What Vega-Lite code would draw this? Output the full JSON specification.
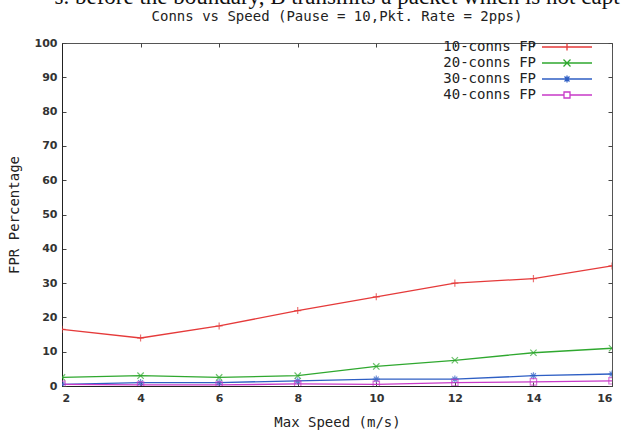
{
  "$schema": "https://vega.github.io/schema/vega-lite/v6.json",
  "width": 550,
  "height": 343,
  "autosize": {"type": "none"},
  "padding": {"left": 62, "top": 43, "right": 12, "bottom": 49},
  "background": "white",
  "title": {
    "text": "s. before the boundary, B transmits a packet which is not capt",
    "subtitle": "Conns vs Speed (Pause = 10,Pkt. Rate = 2pps)",
    "anchor": "middle",
    "font": "Liberation Serif",
    "fontSize": 23,
    "fontWeight": "normal",
    "color": "#111",
    "subtitleFont": "DejaVu Sans Mono",
    "subtitleFontSize": 14,
    "subtitleColor": "#222",
    "subtitlePadding": 1,
    "offset": 13
  },
  "config": {
    "view": {"stroke": "#555", "strokeWidth": 1},
    "axis": {
      "labelFont": "DejaVu Sans",
      "labelFontSize": 11,
      "labelFontWeight": "bold",
      "labelColor": "#333",
      "titleFont": "DejaVu Sans Mono",
      "titleFontSize": 14,
      "titleFontWeight": "normal",
      "titleColor": "#222",
      "grid": false,
      "domainColor": "#222",
      "tickColor": "#444",
      "tickSize": -4
    },
    "legend": {
      "labelFont": "DejaVu Sans Mono",
      "labelFontSize": 14,
      "labelColor": "#222"
    }
  },
  "data": {
    "values": [
      {"speed": 2, "fpr": 16.5, "series": "10-conns FP"},
      {"speed": 4, "fpr": 14, "series": "10-conns FP"},
      {"speed": 6, "fpr": 17.5, "series": "10-conns FP"},
      {"speed": 8, "fpr": 22, "series": "10-conns FP"},
      {"speed": 10, "fpr": 26, "series": "10-conns FP"},
      {"speed": 12, "fpr": 30, "series": "10-conns FP"},
      {"speed": 14, "fpr": 31.3, "series": "10-conns FP"},
      {"speed": 16, "fpr": 35, "series": "10-conns FP"},
      {"speed": 2, "fpr": 2.5, "series": "20-conns FP"},
      {"speed": 4, "fpr": 3, "series": "20-conns FP"},
      {"speed": 6, "fpr": 2.5, "series": "20-conns FP"},
      {"speed": 8, "fpr": 3, "series": "20-conns FP"},
      {"speed": 10, "fpr": 5.7, "series": "20-conns FP"},
      {"speed": 12, "fpr": 7.5, "series": "20-conns FP"},
      {"speed": 14, "fpr": 9.7, "series": "20-conns FP"},
      {"speed": 16, "fpr": 11, "series": "20-conns FP"},
      {"speed": 2, "fpr": 0.5, "series": "30-conns FP"},
      {"speed": 4, "fpr": 1, "series": "30-conns FP"},
      {"speed": 6, "fpr": 1, "series": "30-conns FP"},
      {"speed": 8, "fpr": 1.5, "series": "30-conns FP"},
      {"speed": 10, "fpr": 2, "series": "30-conns FP"},
      {"speed": 12, "fpr": 2, "series": "30-conns FP"},
      {"speed": 14, "fpr": 3, "series": "30-conns FP"},
      {"speed": 16, "fpr": 3.5, "series": "30-conns FP"},
      {"speed": 2, "fpr": 0.5, "series": "40-conns FP"},
      {"speed": 4, "fpr": 0.3, "series": "40-conns FP"},
      {"speed": 6, "fpr": 0.3, "series": "40-conns FP"},
      {"speed": 8, "fpr": 0.6, "series": "40-conns FP"},
      {"speed": 10, "fpr": 0.5, "series": "40-conns FP"},
      {"speed": 12, "fpr": 1, "series": "40-conns FP"},
      {"speed": 14, "fpr": 1.2, "series": "40-conns FP"},
      {"speed": 16, "fpr": 1.5, "series": "40-conns FP"}
    ]
  },
  "layer": [
    {
      "mark": {"type": "line", "strokeWidth": 1.3, "clip": true},
      "encoding": {
        "x": {
          "field": "speed", "type": "quantitative",
          "scale": {"domain": [2, 16], "nice": false, "zero": false},
          "axis": {"values": [2, 4, 6, 8, 10, 12, 14, 16], "title": "Max Speed (m/s)", "labelPadding": 10, "titlePadding": 12}
        },
        "y": {
          "field": "fpr", "type": "quantitative",
          "scale": {"domain": [0, 100], "nice": false},
          "axis": {"values": [0, 10, 20, 30, 40, 50, 60, 70, 80, 90, 100], "title": "FPR Percentage", "labelPadding": 9, "titlePadding": 13}
        },
        "color": {
          "field": "series", "type": "nominal",
          "scale": {"domain": ["10-conns FP", "20-conns FP", "30-conns FP", "40-conns FP"], "range": ["#e53a3a", "#2fa82f", "#2f5fc4", "#c83ac8"]},
          "legend": {
            "title": null,
            "orient": "none",
            "legendX": 498,
            "legendY": -3,
            "symbolType": "M-5,0H5",
            "symbolSize": 100,
            "symbolStrokeWidth": 1.3,
            "labelAlign": "right",
            "labelOffset": -38,
            "rowPadding": 2,
            "encode": {
              "symbols": {
                "update": {
                  "shape": {"signal": "datum.value === '10-conns FP' ? 'M-5,0H5M0,-0.7V0.7' : datum.value === '20-conns FP' ? 'M-5,0H5M-0.7,-0.7L0.7,0.7M-0.7,0.7L0.7,-0.7' : datum.value === '30-conns FP' ? 'M-5,0H5M0,-0.7V0.7M-0.5,-0.5L0.5,0.5M-0.5,0.5L0.5,-0.5' : 'M-5,0H-0.6M0.6,0H5M-0.6,-0.6H0.6V0.6H-0.6Z'"}
                }
              }
            }
          }
        }
      }
    },
    {
      "transform": [{"filter": "datum.series === '10-conns FP'"}],
      "mark": {"type": "point", "shape": "M-1,0H1M0,-1V1", "filled": false, "strokeWidth": 1.2, "size": 50, "clip": true, "stroke": "#e53a3a"},
      "encoding": {
        "x": {"field": "speed", "type": "quantitative", "axis": null},
        "y": {"field": "fpr", "type": "quantitative", "axis": null}
      }
    },
    {
      "transform": [{"filter": "datum.series === '20-conns FP'"}],
      "mark": {"type": "point", "shape": "M-1,-1L1,1M-1,1L1,-1", "filled": false, "strokeWidth": 1.2, "size": 40, "clip": true, "stroke": "#2fa82f"},
      "encoding": {
        "x": {"field": "speed", "type": "quantitative", "axis": null},
        "y": {"field": "fpr", "type": "quantitative", "axis": null}
      }
    },
    {
      "transform": [{"filter": "datum.series === '30-conns FP'"}],
      "mark": {"type": "point", "shape": "M-1,0H1M0,-1V1M-0.7,-0.7L0.7,0.7M-0.7,0.7L0.7,-0.7", "filled": false, "strokeWidth": 1.2, "size": 50, "clip": true, "stroke": "#2f5fc4"},
      "encoding": {
        "x": {"field": "speed", "type": "quantitative", "axis": null},
        "y": {"field": "fpr", "type": "quantitative", "axis": null}
      }
    },
    {
      "transform": [{"filter": "datum.series === '40-conns FP'"}],
      "mark": {"type": "point", "shape": "square", "filled": false, "strokeWidth": 1.2, "size": 40, "clip": true, "stroke": "#c83ac8"},
      "encoding": {
        "x": {"field": "speed", "type": "quantitative", "axis": null},
        "y": {"field": "fpr", "type": "quantitative", "axis": null}
      }
    },
    {
      "mark": {"type": "point", "opacity": 0},
      "encoding": {
        "x": {"field": "speed", "type": "quantitative", "axis": {"orient": "top", "values": [2, 4, 6, 8, 10, 12, 14, 16], "labels": false, "title": null, "domain": false}},
        "y": {"field": "fpr", "type": "quantitative", "axis": {"orient": "right", "values": [0, 10, 20, 30, 40, 50, 60, 70, 80, 90, 100], "labels": false, "title": null, "domain": false}}
      }
    }
  ],
  "resolve": {"axis": {"x": "independent", "y": "independent"}}
}
